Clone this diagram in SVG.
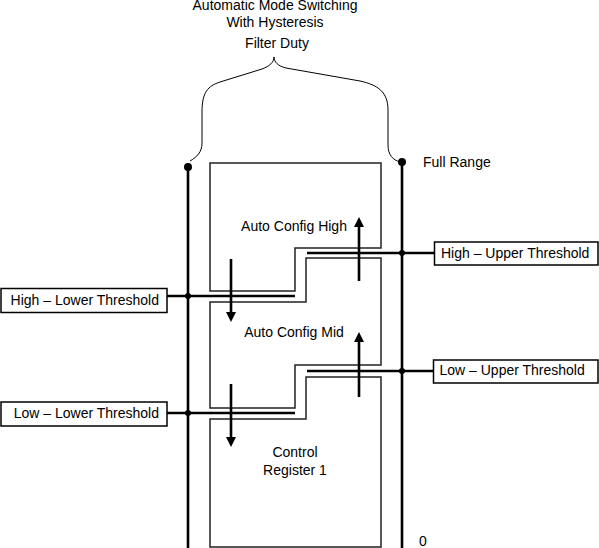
<svg xmlns="http://www.w3.org/2000/svg" width="599" height="548" viewBox="0 0 599 548">
<style>
text{font-family:"Liberation Sans",Arial,sans-serif;font-size:14px;fill:#000}
.box{fill:#fff;stroke:#222;stroke-width:1.5}
.lbl{fill:#fff;stroke:#000;stroke-width:1.5}
.thick{stroke:#000;stroke-width:2.6;fill:none}
.arr{stroke:#000;stroke-width:2.6;fill:none;marker-end:url(#ah)}
</style>
<defs>
<marker id="ah" markerWidth="10" markerHeight="10" refX="0" refY="5" orient="auto" markerUnits="userSpaceOnUse" viewBox="0 0 10 10">
<path d="M0,0 L10,5 L0,10 Z" fill="#000"/>
</marker>
</defs>
<g id="title">
<text x="275" y="10" text-anchor="middle">Automatic Mode Switching</text>
<text x="275" y="27" text-anchor="middle">With Hysteresis</text>
<text x="277" y="48" text-anchor="middle">Filter Duty</text>
<path d="M190,161 C197,157 202,152 202,143 L202,112 C202,92 208,86 220,82 L262,69 C270,66 274,62 274,57 C274,62 278,66 286,68 L360,81 C378,85 388,92 388,110 L388,145 C388,155 393,160 400,162" fill="none" stroke="#000" stroke-width="1"/>
</g>
<g id="high">
<path class="box" d="M210,163 L381,163 L381,248 L295,248 L295,291 L210,291 Z"/>
<text x="294" y="231" text-anchor="middle">Auto Config High</text>
</g>
<g id="mid">
<path class="box" d="M210,302 L306,302 L306,258 L381,258 L381,365 L295,365 L295,408 L210,408 Z"/>
<text x="294" y="337" text-anchor="middle">Auto Config Mid</text>
</g>
<g id="control">
<path class="box" d="M210,419 L306,419 L306,377 L381,377 L381,547 L210,547 Z"/>
<text x="295" y="457" text-anchor="middle">Control</text>
<text x="295" y="475" text-anchor="middle">Register 1</text>
</g>
<g id="connectors">
<line class="thick" x1="188" y1="167" x2="188" y2="548"/>
<line class="thick" x1="402" y1="162" x2="402" y2="548"/>
<circle cx="188" cy="167" r="4"/>
<circle cx="402" cy="162" r="4"/>
<line class="thick" x1="167" y1="296" x2="295" y2="296"/>
<line class="thick" x1="167" y1="413" x2="295" y2="413"/>
<line class="thick" x1="307" y1="253" x2="434" y2="253"/>
<line class="thick" x1="307" y1="371" x2="434" y2="371"/>
<circle cx="188" cy="296" r="3"/>
<circle cx="188" cy="413" r="3"/>
<circle cx="402" cy="253" r="3"/>
<circle cx="402" cy="371" r="3"/>
<line class="arr" x1="231" y1="259" x2="231" y2="312"/>
<line class="arr" x1="231" y1="384" x2="231" y2="437"/>
<line class="arr" x1="359" y1="281" x2="359" y2="227"/>
<line class="arr" x1="359" y1="397" x2="359" y2="342"/>
</g>
<g id="hlt">
<rect class="lbl" x="1" y="288.5" width="166" height="24"/>
<text x="159" y="305" text-anchor="end">High – Lower Threshold</text>
</g>
<g id="llt">
<rect class="lbl" x="1" y="402" width="166" height="24"/>
<text x="159" y="418" text-anchor="end">Low – Lower Threshold</text>
</g>
<g id="hut">
<rect class="lbl" x="434.5" y="242" width="163.5" height="23"/>
<text x="441" y="257.5">High – Upper Threshold</text>
</g>
<g id="lut">
<rect class="lbl" x="433.5" y="360" width="164.5" height="23"/>
<text x="439.5" y="375">Low – Upper Threshold</text>
</g>
<g id="range">
<text x="423" y="167">Full Range</text>
<text x="419" y="546">0</text>
</g>
</svg>
